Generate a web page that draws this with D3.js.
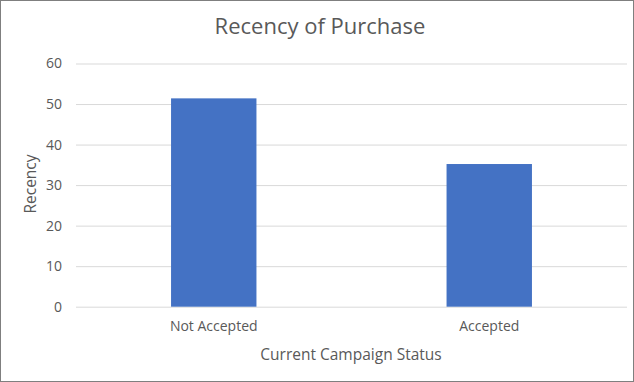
<!doctype html>
<html>
<head>
<style>
  body { margin: 0; background: #fff; }
  svg { display: block; font-family: "Open Sans", sans-serif; }
</style>
</head>
<body>
<script src="https://cdn.jsdelivr.net/npm/d3@7"></script>
<svg id="chart" width="634" height="382"></svg>
<script>
const categories = ['Not Accepted', 'Accepted'];
const recency = [51.4, 35.2];
const yTicks = [0, 10, 20, 30, 40, 50, 60];

const svg = d3.select('#chart');
const W = 634, H = 382;
const plot = { left: 76, right: 627, top: 63.5, bottom: 306.7 };
const font = '"Open Sans", sans-serif';

svg.append('rect')
  .attr('x', 0.5).attr('y', 0.5)
  .attr('width', W - 1).attr('height', H - 1)
  .attr('fill', '#fff').attr('stroke', '#7f7f7f');

const x = d3.scaleBand()
  .domain(categories)
  .range([plot.left, plot.right]);

const y = d3.scaleLinear()
  .domain([0, 60])
  .range([plot.bottom, plot.top]);

// gridlines + y labels
const yAxis = d3.axisLeft(y)
  .tickValues(yTicks)
  .tickSize(-(plot.right - plot.left))
  .tickPadding(14);

svg.append('g')
  .attr('transform', `translate(${plot.left},0)`)
  .call(yAxis)
  .attr('font-family', font)
  .call(g => g.select('.domain').remove())
  .call(g => g.selectAll('.tick line').attr('stroke', '#d9d9d9').attr('stroke-width', 1))
  .call(g => g.selectAll('.tick text')
    .attr('fill', '#595959').attr('font-size', 14));

const barW = x.bandwidth() * 0.31;
svg.append('g')
  .selectAll('rect')
  .data(categories)
  .join('rect')
  .attr('x', d => x(d) + (x.bandwidth() - barW) / 2)
  .attr('width', barW)
  .attr('y', (d, i) => y(recency[i]))
  .attr('height', (d, i) => y(0) - y(recency[i]))
  .attr('fill', '#4472c4');

const xAxis = d3.axisBottom(x).tickSize(0).tickPadding(14);
svg.append('g')
  .attr('transform', `translate(0,${plot.bottom})`)
  .call(xAxis)
  .attr('font-family', font)
  .call(g => g.select('.domain').remove())
  .call(g => g.selectAll('.tick text')
    .attr('fill', '#595959').attr('font-size', 14));

svg.append('text')
  .attr('x', 320).attr('y', 34)
  .attr('text-anchor', 'middle')
  .attr('fill', '#595959')
  .attr('font-size', 22)
  .text('Recency of Purchase');

svg.append('text')
  .attr('x', 351).attr('y', 360)
  .attr('text-anchor', 'middle')
  .attr('fill', '#595959')
  .attr('font-size', 15.5)
  .text('Current Campaign Status');

svg.append('text')
  .attr('transform', 'translate(36,184) rotate(-90)')
  .attr('text-anchor', 'middle')
  .attr('fill', '#595959')
  .attr('font-size', 15.5)
  .text('Recency');
</script>
</body>
</html>
